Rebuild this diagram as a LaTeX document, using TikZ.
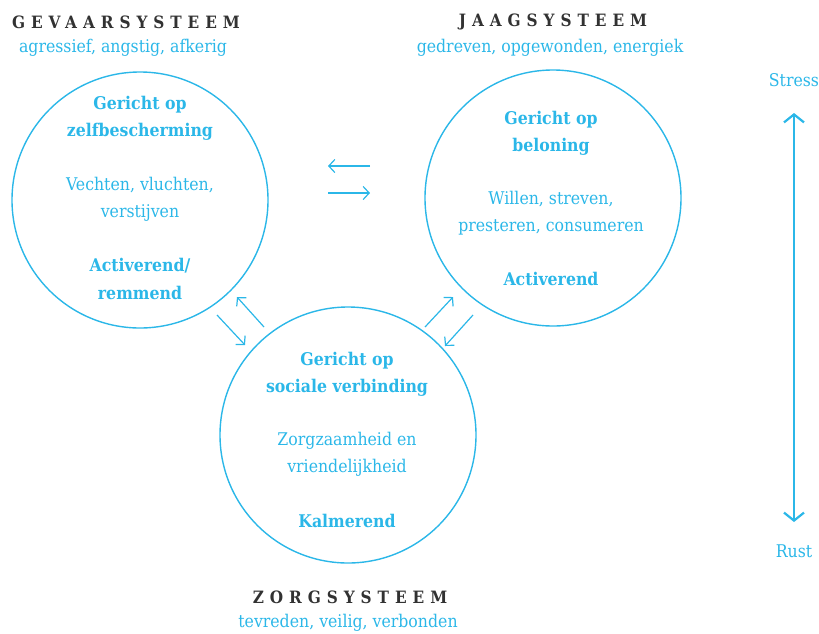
\documentclass[tikz,border=0pt]{standalone}
\usepackage{fontspec}
\usetikzlibrary{arrows.meta}
\setmainfont{DejaVu Serif Condensed}
\newfontfamily\titlefont[LetterSpace=35]{DejaVu Serif Condensed Bold}
\definecolor{cy}{RGB}{43,183,232}
\definecolor{dk}{RGB}{50,50,50}
\begin{document}
\begin{tikzpicture}[x=1pt,y=-1pt,
  circ/.style={draw=cy,line width=1.4pt,circle,minimum size=256pt,inner sep=0pt},
  ttl/.style={text=dk,font=\titlefont\fontsize{17}{17}\selectfont},
  sub/.style={text=cy,font=\fontsize{17.5}{17.5}\selectfont},
  bt/.style={text=cy,font=\bfseries\fontsize{17.5}{17.5}\selectfont},
  nt/.style={text=cy,font=\fontsize{17.5}{17.5}\selectfont},
  arr/.style={draw=cy,line width=1.2pt,-{Straight Barb[length=6pt,width=13pt]}},
  bigarr/.style={draw=cy,line width=2.2pt,{Straight Barb[length=8pt,width=20pt]}-{Straight Barb[length=8pt,width=20pt]}}]
\useasboundingbox (0,0) rectangle (819,633);
\node[circ] (L) at (140,200) {};
\node[circ] (R) at (553,198) {};
\node[circ] (B) at (348,435) {};
% titles
\node[ttl] (t1) at (126,22) {GEVAARSYSTEEM};
\node[sub] (s1) at (123,48) {agressief, angstig, afkerig};
\node[ttl] (t2) at (553,22) {JAAGSYSTEEM};
\node[sub] (s2) at (550,48) {gedreven, opgewonden, energiek};
\node[ttl] (t3) at (350,597) {ZORGSYSTEEM};
\node[sub] (s3) at (348,623) {tevreden, veilig, verbonden};
% left circle
\node[bt] (l1) at (140,105) {Gericht op};
\node[bt] (l2) at (140,132) {zelfbescherming};
\node[nt] (l3) at (140,185) {Vechten, vluchten,};
\node[nt] (l4) at (140,213) {verstijven};
\node[bt] (l5) at (140,266) {Activerend/};
\node[bt] (l6) at (140,293) {remmend};
% right circle
\node[bt] (r1) at (551,120) {Gericht op};
\node[bt] (r2) at (551,147) {beloning};
\node[nt] (r3) at (551,199) {Willen, streven,};
\node[nt] (r4) at (551,227) {presteren, consumeren};
\node[bt] (r5) at (551,279) {Activerend};
% bottom circle
\node[bt] (b1) at (347,361) {Gericht op};
\node[bt] (b2) at (347,388) {sociale verbinding};
\node[nt] (b3) at (347,441) {Zorgzaamheid en};
\node[nt] (b4) at (347,468) {vriendelijkheid};
\node[bt] (b5) at (347,521) {Kalmerend};
% arrows
\coordinate (a1s) at (370,166); \coordinate (a1e) at (328,166);
\coordinate (a2s) at (328,193); \coordinate (a2e) at (370,193);
\draw[arr] (a1s) -- (a1e);
\draw[arr] (a2s) -- (a2e);
\coordinate (a3s) at (264,327); \coordinate (a3e) at (237,297);
\coordinate (a4s) at (217,315); \coordinate (a4e) at (245,345);
\draw[arr] (a3s) -- (a3e);
\draw[arr] (a4s) -- (a4e);
\coordinate (a5s) at (425,327); \coordinate (a5e) at (453,297);
\coordinate (a6s) at (473,315); \coordinate (a6e) at (445,346);
\draw[arr] (a5s) -- (a5e);
\draw[arr] (a6s) -- (a6e);
% stress scale
\node[nt] (st) at (794,80) {Stress};
\node[nt] (ru) at (794,551) {Rust};
\coordinate (sa) at (794,113); \coordinate (sb) at (794,522);
\draw[bigarr] (sa) -- (sb);
\end{tikzpicture}
\end{document}
